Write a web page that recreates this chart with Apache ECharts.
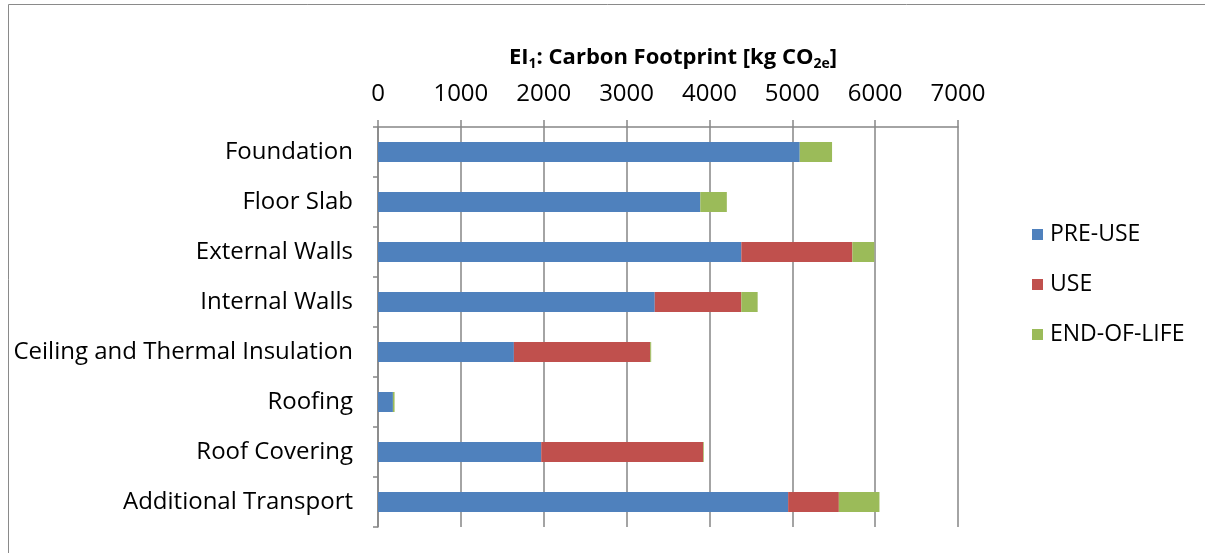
<!DOCTYPE html>
<html><head><meta charset="utf-8">
<script src="https://cdn.jsdelivr.net/npm/echarts@6/dist/echarts.min.js"></script>
<style>html,body{margin:0;padding:0;background:#fff}#c{width:1205px;height:553px}</style>
</head><body><div id="c"></div>
<script>
const categories = ["Foundation","Floor Slab","External Walls","Internal Walls","Ceiling and Thermal Insulation","Roofing","Roof Covering","Additional Transport"];
const preUse = [5090, 3890, 4385, 3340, 1640, 180, 1970, 4950];
const use = [0, 0, 1340, 1045, 1645, 0, 1955, 612];
const endOfLife = [390, 320, 265, 197, 12, 20, 8, 490];
const xTicks = [0, 1000, 2000, 3000, 4000, 5000, 6000, 7000];
const seriesNames = ["PRE-USE","USE","END-OF-LIFE"];
const colors = ["#4f81bd","#c0504d","#9bbb59"];

const chart = echarts.init(document.getElementById('c'));
const font = '"Open Sans", sans-serif';
const mk = (name, data, i) => ({
  name, type:'bar', stack:'t', data, barWidth:20,
  itemStyle:{color:colors[i]}, emphasis:{disabled:true}
});
chart.setOption({
  animation:false,
  graphic:[{type:'rect', shape:{x:8.5,y:4.5,width:1200,height:600}, style:{fill:'none',stroke:'#8a8a8a',lineWidth:1}, silent:true}],
  title:{
    text:'{b|EI}{s|1}{b|: Carbon Footprint [kg CO}{s|2e}{b|]}',
    left:668, top:39, textAlign:'center',
    textStyle:{rich:{
      b:{fontFamily:font,fontWeight:'bold',fontSize:22,color:'#000'},
      s:{fontFamily:font,fontWeight:'bold',fontSize:14,color:'#000',padding:[13,0,0,0]}
    }}
  },
  legend:{
    orient:'vertical', left:1027, top:218, itemGap:27, itemWidth:11, itemHeight:11,
    icon:'rect', data:seriesNames,
    textStyle:{fontFamily:font,fontSize:23,lineHeight:22,color:'#000',padding:[0,0,0,2]}
  },
  grid:{left:378, top:127, width:580, height:400, containLabel:false},
  xAxis:{
    type:'value', position:'top', min:0, max:7000, interval:1000,
    axisLine:{show:true,lineStyle:{color:'#868686',width:1.5}},
    axisTick:{show:true,length:7,lineStyle:{color:'#868686',width:1.5}},
    splitLine:{show:true,lineStyle:{color:'#868686',width:1.5}},
    axisLabel:{fontFamily:font,fontSize:24,color:'#000',margin:21,
      formatter:(v)=>xTicks.includes(v)?String(v):''}
  },
  yAxis:{
    type:'category', inverse:true, data:categories,
    axisLine:{show:true,lineStyle:{color:'#868686',width:1.5}},
    axisTick:{show:true,length:5,lineStyle:{color:'#868686',width:1.5}},
    axisLabel:{fontFamily:font,fontSize:24,color:'#000',margin:25}
  },
  series:[mk(seriesNames[0],preUse,0), mk(seriesNames[1],use,1), mk(seriesNames[2],endOfLife,2)]
});
</script></body></html>
